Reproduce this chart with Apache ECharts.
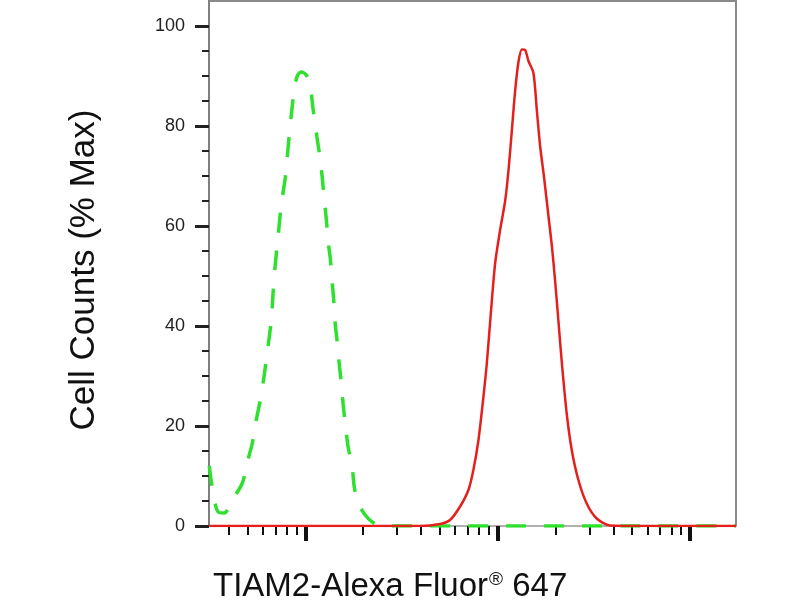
<!DOCTYPE html>
<html>
<head>
<meta charset="utf-8">
<script src="https://cdn.jsdelivr.net/npm/echarts@6/dist/echarts.min.js"></script>
<style>
  html, body { margin: 0; padding: 0; background: #fff; }
  #chart { width: 800px; height: 600px; }
</style>
</head>
<body>
<div id="chart"></div>
<script>
// fluorescence intensity (log scale) and % max counts
const greenX = [3.17, 3.33, 3.53, 3.79, 4.18, 4.71, 5.00, 5.31, 5.56, 5.84, 6.12, 6.42, 6.66, 6.82,
    6.98, 7.24, 7.50, 7.87, 8.06, 8.26, 8.46, 8.77, 9.09, 9.53, 10.12, 10.6, 11.0, 11.5, 11.97,
    12.25, 12.55, 12.85, 13.16, 13.49, 13.8, 14.06, 14.3, 14.66, 15.0, 15.38, 15.75, 16.14, 16.7,
    17.5, 17.98, 18.85, 20.5, 22.3, 25.1, 100, 1734];
const greenY = [12, 6.2, 2.8, 2.6, 5.2, 8.6, 12.8, 16.6, 21.2, 25.2, 30.2, 36.2, 41.2, 47.2,
    52.2, 58.2, 64.2, 69.6, 73.8, 78.2, 82.2, 87.2, 90, 90.8, 90.2, 88, 83.2, 77.8, 73.2,
    69.8, 65.2, 61.6, 56.8, 53.6, 48.8, 45.2, 40.6, 36.8, 32.6, 28.8, 24.2, 20.6, 15.8,
    12.2, 7.8, 4.6, 2.2, 0.8, 0, 0, 0];

const redX = [3.17, 20, 39.5, 50.2, 56.6, 63.8, 70.5, 74.8, 79.5, 84.4, 87.9, 92.2, 97.1, 103.0,
    109.4, 113.8, 118.5, 123.3, 128.3, 133.7, 139.0, 144.6, 153.5, 160.0, 166.3, 174.6, 183.7,
    191.4, 199.0, 207.0, 215.8, 228.6, 242.8, 262.9, 290.4, 327.3, 383.7, 600, 1734];
const redY = [0, 0, 0, 0.4, 1.2, 3.9, 7.2, 11.2, 17.2, 25.9, 32.6, 42.6, 52.6, 59.2,
    65.0, 71.0, 79.0, 87.0, 92.8, 95.3, 95.2, 93.0, 90.6, 83.0, 76.0, 69.5, 62.0,
    56.0, 49.0, 41.0, 32.5, 22.5, 15.2, 9.2, 4.5, 1.5, 0.1, 0, 0];

const xMajorTicks = [10, 100, 1000];
const xMinorTicks = [4, 5, 6, 7, 8, 9, 20, 30, 40, 50, 60, 70, 80, 90,
    200, 300, 400, 500, 600, 700, 800, 900];
const yMajorTicks = [0, 20, 40, 60, 80, 100];
const yMinorTicks = [5, 10, 15, 25, 30, 35, 45, 50, 55, 65, 70, 75, 85, 90, 95];

const font = '"Liberation Sans", Arial, Helvetica, sans-serif';

const chart = echarts.init(document.getElementById('chart'));

chart.setOption({
    animation: false,
    backgroundColor: '#fff',
    title: {
        left: 208,
        top: 565,
        text: '{a|TIAM2-Alexa Fluor}{b|®}{a| 647}',
        textStyle: {
            rich: {
                a: { fontFamily: font, fontSize: 33, fontWeight: 'normal', color: '#111', verticalAlign: 'bottom' },
                b: { fontFamily: font, fontSize: 19, fontWeight: 'normal', color: '#111', verticalAlign: 'top', padding: [0, 0, 0, 1] }
            }
        }
    },
    graphic: [{
        type: 'text',
        x: 84,
        y: 270,
        rotation: Math.PI / 2,
        style: {
            text: 'Cell Counts (% Max)',
            fontFamily: font,
            fontSize: 35,
            fill: '#111',
            align: 'center',
            verticalAlign: 'middle'
        }
    }],
    grid: {
        left: 209, right: 64, top: 1, bottom: 74,
        show: true,
        borderColor: '#8a8a8a',
        borderWidth: 2,
        containLabel: false
    },
    xAxis: [{
        type: 'log',
        min: 3.16,
        max: 1734,
        position: 'bottom',
        axisLine: { show: true, lineStyle: { color: '#b0b0b0', width: 2 } },
        axisTick: { show: true, customValues: xMinorTicks, length: 9, lineStyle: { color: '#111', width: 2 } },
        axisLabel: { show: false },
        splitLine: { show: false },
        minorSplitLine: { show: false }
    }, {
        type: 'log',
        min: 3.16,
        max: 1734,
        position: 'bottom',
        axisLine: { show: false },
        axisTick: { show: true, customValues: xMajorTicks, length: 15, lineStyle: { color: '#111', width: 4 } },
        axisLabel: { show: false },
        splitLine: { show: false }
    }],
    yAxis: [{
        type: 'value',
        min: 0,
        max: 105,
        position: 'left',
        axisLine: { show: true, lineStyle: { color: '#7f7f7f', width: 2 } },
        axisTick: { show: true, customValues: yMajorTicks, length: 14, lineStyle: { color: '#222', width: 3 } },
        axisLabel: { customValues: yMajorTicks, margin: 24, fontFamily: font, fontSize: 18, color: '#222' },
        splitLine: { show: false }
    }, {
        type: 'value',
        min: 0,
        max: 105,
        position: 'left',
        axisLine: { show: false },
        axisTick: { show: true, customValues: yMinorTicks, length: 7, lineStyle: { color: '#222', width: 2 } },
        axisLabel: { show: false },
        splitLine: { show: false }
    }],
    series: [{
        name: 'Isotype',
        type: 'line',
        xAxisIndex: 0,
        yAxisIndex: 0,
        data: greenX.map((x, i) => [x, greenY[i]]),
        showSymbol: false,
        symbol: 'none',
        smooth: 0.3,
        lineStyle: { color: '#2fe02f', width: 3.5, type: [20, 18] },
        z: 3
    }, {
        name: 'TIAM2',
        type: 'line',
        xAxisIndex: 0,
        yAxisIndex: 0,
        data: redX.map((x, i) => [x, redY[i]]),
        showSymbol: false,
        symbol: 'none',
        smooth: 0.25,
        lineStyle: { color: '#e3201b', width: 2.5 },
        z: 4
    }]
});
</script>
</body>
</html>
